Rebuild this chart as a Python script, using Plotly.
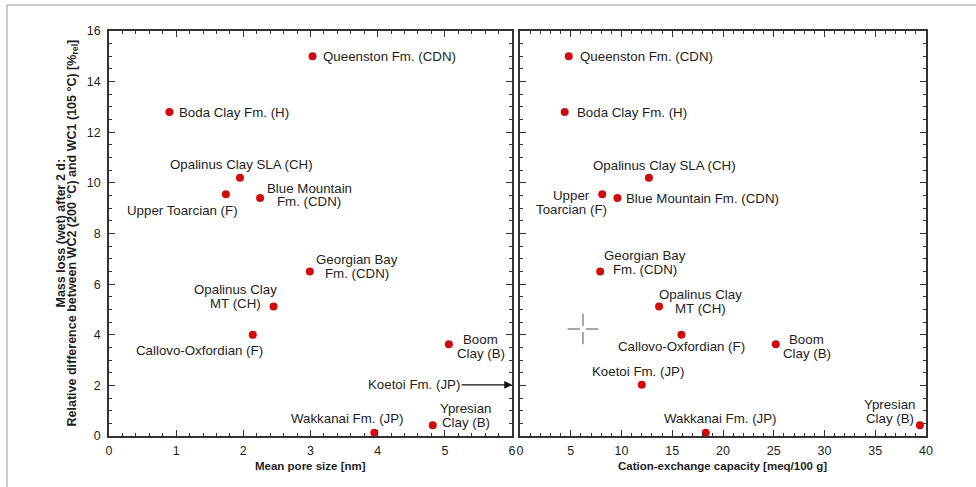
import plotly.graph_objects as go

# ---------------- data ----------------
names = ["Queenston", "Boda", "Opalinus SLA", "Upper Toarcian", "Blue Mountain",
         "Georgian Bay", "Opalinus MT", "Callovo", "Boom", "Koetoi", "Wakkanai", "Ypresian"]
mass_loss = [15.0, 12.8, 10.2, 9.55, 9.4, 6.5, 5.12, 4.0, 3.62, 2.02, 0.13, 0.42]
pore_size = [3.03, 0.90, 1.95, 1.74, 2.25, 2.99, 2.45, 2.14, 5.06, None, 3.95, 4.82]
cec = [4.8, 4.4, 12.7, 8.1, 9.6, 7.9, 13.7, 15.9, 25.2, 12.0, 18.3, 39.4]

labels_left = ["Queenston Fm. (CDN)", "Boda Clay Fm. (H)", "Opalinus Clay SLA (CH)",
               "Upper Toarcian (F)", "Blue Mountain<br>Fm. (CDN)", "Georgian Bay<br>Fm. (CDN)",
               "Opalinus Clay<br>MT (CH)", "Callovo-Oxfordian (F)", "Boom<br>Clay (B)",
               "Koetoi Fm. (JP)", "Wakkanai Fm. (JP)", "Ypresian<br>Clay (B)"]
labels_right = ["Queenston Fm. (CDN)", "Boda Clay Fm. (H)", "Opalinus Clay SLA (CH)",
                "Upper<br>Toarcian (F)", "Blue Mountain Fm. (CDN)", "Georgian Bay<br>Fm. (CDN)",
                "Opalinus Clay<br>MT (CH)", "Callovo-Oxfordian (F)", "Boom<br>Clay (B)",
                "Koetoi Fm. (JP)", "Wakkanai Fm. (JP)", "Ypresian<br>Clay (B)"]

cursor_x = [6.2]
cursor_y = [4.23]

x_left_range = [0, 6]
x_right_range = [0, 40]
y_range = [0, 16]

# ---------------- styles (label offsets in px: xanchor, xshift, yshift) ----------------
off_left = {
    "Queenston": ("left", 8, 0), "Boda": ("left", 8, 0), "Opalinus SLA": ("center", 2, 13),
    "Upper Toarcian": ("center", -43, -16), "Blue Mountain": ("center", 49, 3),
    "Georgian Bay": ("center", 47, 5), "Opalinus MT": ("center", -38, 10),
    "Callovo": ("center", -53, -16), "Boom": ("center", 32, -2),
    "Wakkanai": ("center", -27, 14), "Ypresian": ("center", 33, 10),
}
off_right = {
    "Queenston": ("left", 9, 0), "Boda": ("left", 10, 0), "Opalinus SLA": ("center", 16, 12),
    "Upper Toarcian": ("center", -31, -8), "Blue Mountain": ("left", 7, 0),
    "Georgian Bay": ("center", 45, 9), "Opalinus MT": ("center", 41, 5),
    "Callovo": ("center", 0, -12), "Boom": ("center", 31, -2), "Koetoi": ("center", -4, 13),
    "Wakkanai": ("center", 15, 14), "Ypresian": ("center", -30, 14),
}

FONT = "Liberation Sans, Arial, sans-serif"
RED = "#d10a0a"
TXT = "#1e1e1e"
LAB_SIZE = 13.3
LINE_GAP = 13.5

fig = go.Figure()
fig.add_trace(go.Scatter(x=pore_size, y=mass_loss, mode="markers", xaxis="x", yaxis="y",
                         marker=dict(color=RED, size=8), showlegend=False))
fig.add_trace(go.Scatter(x=cec, y=mass_loss, mode="markers", xaxis="x2", yaxis="y2",
                         marker=dict(color=RED, size=8), showlegend=False))
fig.add_trace(go.Scatter(x=cursor_x, y=cursor_y, mode="markers", xaxis="x2", yaxis="y2",
                         marker=dict(symbol="cross-thin-open", size=22, color="#8a8a8a",
                                     line=dict(color="#8a8a8a", width=1.5)), showlegend=False))
fig.add_trace(go.Scatter(x=cursor_x, y=cursor_y, mode="markers", xaxis="x2", yaxis="y2",
                         marker=dict(symbol="square", size=6, color="white",
                                     line=dict(width=0)), showlegend=False))

ann = []


def add_label(x, y, xr, yr, text, style):
    xa, xs, ys = style
    lines = text.split("<br>")
    nl = len(lines)
    for j, ln in enumerate(lines):
        dy = ((nl - 1) / 2 - j) * LINE_GAP
        ann.append(dict(x=x, y=y, xref=xr, yref=yr, text=ln, showarrow=False,
                        xanchor=xa, yanchor="middle", xshift=xs, yshift=ys + dy,
                        font=dict(size=LAB_SIZE, color=TXT, family=FONT)))


for i, n in enumerate(names):
    if n in off_left and pore_size[i] is not None:
        add_label(pore_size[i], mass_loss[i], "x", "y", labels_left[i], off_left[n])
    if n in off_right:
        add_label(cec[i], mass_loss[i], "x2", "y2", labels_right[i], off_right[n])

# Koetoi: off-scale in left panel -> arrow to the right edge
k = names.index("Koetoi")
ann.append(dict(x=x_left_range[1], y=mass_loss[k], xref="x", yref="y", text=labels_left[k],
                showarrow=True, ax=-98, ay=0, arrowhead=2, arrowsize=1.2, arrowwidth=1.3,
                arrowcolor="#111", font=dict(size=LAB_SIZE, color=TXT, family=FONT)))

# axis titles
ann.append(dict(x=0.2467, y=0, xref="paper", yref="paper", yshift=-30, yanchor="middle",
                xanchor="center", text="<b>Mean pore size [nm]</b>", showarrow=False,
                font=dict(size=11.5, color=TXT, family=FONT)))
ann.append(dict(x=0.7515, y=0, xref="paper", yref="paper", yshift=-30, yanchor="middle",
                xanchor="center", text="<b>Cation-exchange capacity [meq/100 g]</b>", showarrow=False,
                font=dict(size=11.5, color=TXT, family=FONT)))
ann.append(dict(x=0, y=0.5, xref="paper", yref="paper", xshift=-49, xanchor="center",
                yanchor="middle", text="<b>Mass loss (wet) after 2 d:</b>", textangle=-90,
                showarrow=False, font=dict(size=12.5, color=TXT, family=FONT)))
ann.append(dict(x=0, y=0.5, xref="paper", yref="paper", xshift=-37, xanchor="center",
                yanchor="middle",
                text="<b>Relative difference between WC2 (200 °C) and WC1 (105 °C) [%<sub>rel</sub>]</b>",
                textangle=-90, showarrow=False, font=dict(size=12.5, color=TXT, family=FONT)))

axis_common = dict(showgrid=False, zeroline=False, showline=True, linecolor="#333", linewidth=1.5,
                   mirror="allticks", ticks="inside", ticklen=6, tickwidth=1.2, tickcolor="#333",
                   tickfont=dict(size=12.5, color=TXT, family=FONT))

fig.update_layout(
    width=976, height=487, margin=dict(l=109, r=50, t=31, b=51),
    paper_bgcolor="white", plot_bgcolor="white",
    xaxis=dict(axis_common, domain=[0, 0.4933], range=x_left_range, dtick=1, ticklabelstandoff=2,
               minor=dict(dtick=0.2, ticks="inside", ticklen=3, tickcolor="#333")),
    xaxis2=dict(axis_common, domain=[0.5031, 1], range=x_right_range, dtick=5, anchor="y2",
                ticklabelstandoff=2,
                minor=dict(dtick=1, ticks="inside", ticklen=3, tickcolor="#333")),
    yaxis=dict(axis_common, range=y_range, dtick=2, ticklabelstandoff=4,
               minor=dict(dtick=0.5, ticks="inside", ticklen=3, tickcolor="#333")),
    yaxis2=dict(axis_common, range=y_range, dtick=2, anchor="x2", showticklabels=False,
                minor=dict(dtick=0.5, ticks="inside", ticklen=3, tickcolor="#333")),
    annotations=ann,
    shapes=[dict(type="line", xref="paper", yref="paper", x0=(7 - 109) / 817, x1=1.1,
                 y0=1 + 26 / 405, y1=1 + 26 / 405, line=dict(color="#999", width=1)),
            dict(type="line", xref="paper", yref="paper", x0=(7 - 109) / 817, x1=(7 - 109) / 817,
                 y0=1 + 26 / 405, y1=-0.2, line=dict(color="#999", width=1))],
)

fig.write_html("out.html", config={"displayModeBar": False},
               post_script="document.body.style.margin='0';")
